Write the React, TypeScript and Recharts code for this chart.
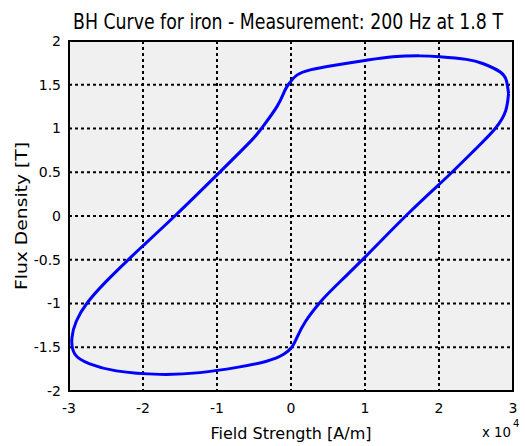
import { LineChart, Line, XAxis, YAxis, CartesianGrid, ReferenceArea, Label } from "recharts"

// field strength H in units of 10^4 A/m, flux density B in T (loop traced counter-clockwise)
const hValues = [
    2.94, 2.91, 2.82, 2.60, 2.37, 2.01, 1.74, 1.38, 1.02, 0.57, 0.26, 0.08, -0.01, -0.08, -0.19, -0.40,
    -0.55, -1.00, -1.57, -2.00, -2.20, -2.50, -2.76, -2.90, -2.96, -2.92, -2.72, -2.36, -1.77, -1.23,
    -0.73, -0.33, -0.10, 0.01, 0.08, 0.20, 0.40, 0.58, 1.00, 1.55, 2.00, 2.20, 2.50, 2.76, 2.90, 2.94,
]
const bValues = [
    1.40, 1.55, 1.65, 1.74, 1.79, 1.82, 1.83, 1.82, 1.78, 1.72, 1.67, 1.61, 1.53, 1.44, 1.25, 1.00,
    0.85, 0.47, 0.00, -0.34, -0.50, -0.75, -1.00, -1.20, -1.39, -1.58, -1.69, -1.77, -1.81, -1.79,
    -1.73, -1.66, -1.58, -1.50, -1.39, -1.20, -0.98, -0.82, -0.47, 0.00, 0.36, 0.52, 0.77, 1.00, 1.20, 1.40,
]
const xTicks = [-3, -2, -1, 0, 1, 2, 3]
const yTicks = [-2, -1.5, -1, -0.5, 0, 0.5, 1, 1.5, 2]

const data = hValues.map((h, i) => ({ h, b: bValues[i] }))

const font = '"DejaVu Sans", sans-serif'
const tickStyle = { fontSize: 14, fill: "#000", fontFamily: font }

export default function App() {
    return (
        <div style={{ position: "absolute", left: 0, top: 0 }}>
            <LineChart width={525} height={446} data={data} margin={{ top: 41, right: 12, bottom: 0, left: 0 }}>
                <CartesianGrid
                    fill="#f0f0f0"
                    stroke="#000"
                    strokeWidth={2}
                    strokeDasharray="3 3"
                    horizontalValues={yTicks}
                    verticalValues={xTicks}
                />
                <XAxis
                    dataKey="h"
                    type="number"
                    domain={[-3, 3]}
                    ticks={xTicks}
                    height={55}
                    tickLine={false}
                    axisLine={false}
                    tickSize={6}
                    tickMargin={6}
                    tick={tickStyle}
                >
                    <Label
                        content={({ viewBox }: any) => (
                            <g style={{ fontFamily: font }} fill="#000">
                                <text
                                    x={viewBox.x + viewBox.width / 2}
                                    y={viewBox.y + 48}
                                    textAnchor="middle"
                                    fontSize={16}
                                    textLength={161}
                                    lengthAdjust="spacingAndGlyphs"
                                >
                                    Field Strength [A/m]
                                </text>
                                <text x={482} y={viewBox.y + 46} fontSize={14} textLength={29} lengthAdjust="spacingAndGlyphs">
                                    x 10
                                </text>
                                <text x={513} y={viewBox.y + 36} fontSize={10}>
                                    4
                                </text>
                            </g>
                        )}
                    />
                </XAxis>
                <YAxis
                    dataKey="b"
                    type="number"
                    domain={[-2, 2]}
                    ticks={yTicks}
                    width={69}
                    tickLine={false}
                    axisLine={false}
                    tickSize={6}
                    tickMargin={2}
                    tick={tickStyle}
                >
                    <Label
                        content={({ viewBox }: any) => (
                            <text
                                x={27}
                                y={viewBox.y + viewBox.height / 2}
                                transform={`rotate(-90, 27, ${viewBox.y + viewBox.height / 2})`}
                                textAnchor="middle"
                                fontSize={16}
                                textLength={148}
                                lengthAdjust="spacingAndGlyphs"
                                fill="#000"
                                style={{ fontFamily: font }}
                            >
                                Flux Density [T]
                            </text>
                        )}
                    />
                </YAxis>
                <ReferenceArea x1={-3} x2={3} y1={-2} y2={2} fill="none" stroke="#000" strokeWidth={2} ifOverflow="visible" />
                <Line
                    dataKey="b"
                    type="natural"
                    stroke="#0000ff"
                    strokeWidth={3}
                    dot={false}
                    isAnimationActive={false}
                />
                <text
                    x={288}
                    y={29}
                    textAnchor="middle"
                    fontSize={21}
                    textLength={430}
                    lengthAdjust="spacingAndGlyphs"
                    fill="#000"
                    style={{ fontFamily: font }}
                >
                    BH Curve for iron - Measurement: 200 Hz at 1.8 T
                </text>
            </LineChart>
        </div>
    )
}
